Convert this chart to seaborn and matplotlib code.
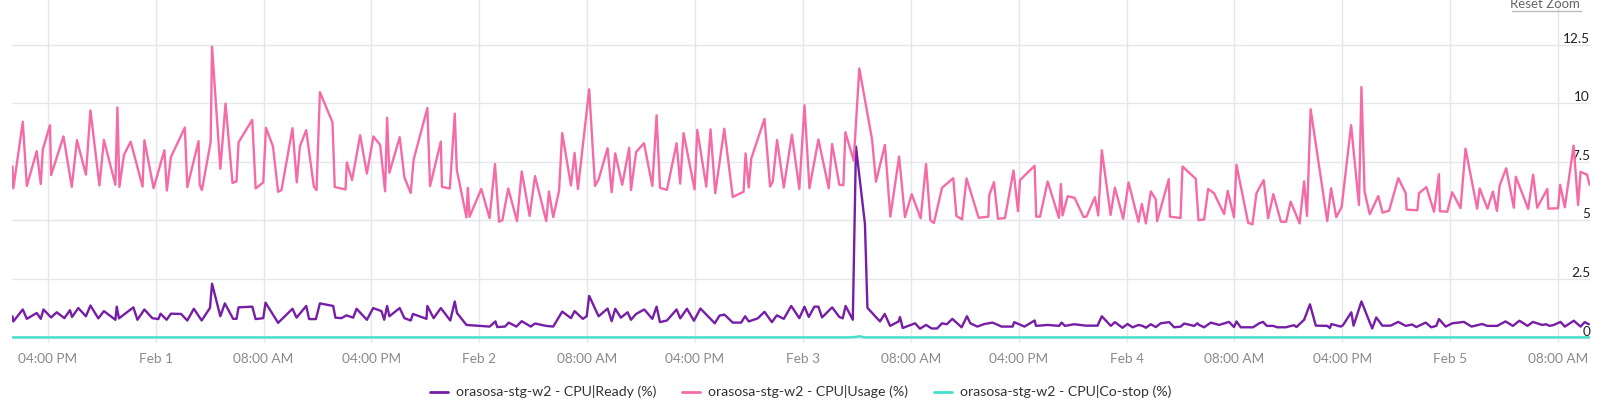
import numpy as np
import pandas as pd
import seaborn as sns
import matplotlib
matplotlib.use('Agg')
from matplotlib import pyplot as plt
import matplotlib.dates as mdates
from matplotlib.lines import Line2D

'''

Data (minutes after Jan 31 12:00, value in %)

'''
start = pd.Timestamp('2023-01-31 12:00')

usage_min = [83, 87, 129, 147, 191, 209, 218, 250, 255, 310, 347, 370, 410, 430, 470, 490, 541, 550, 559, 579,
             609, 662, 670, 711, 759, 770, 788, 850, 861, 911, 916, 926, 965, 971, 1008, 1031, 1062, 1080, 1089, 1150,
             1165, 1199, 1211, 1242, 1265, 1280, 1329, 1348, 1362, 1390, 1424, 1436, 1451, 1507, 1517, 1565, 1571, 1594, 1630, 1660,
             1689, 1719, 1741, 1750, 1760,
             1806, 1827, 1855, 1868, 1929, 1941, 1989, 1994, 2029, 2051, 2060, 2103, 2109, 2117, 2169, 2206, 2230, 2248, 2263, 2289,
             2328, 2349, 2384, 2408, 2458, 2470, 2489, 2515, 2529, 2568, 2584, 2599, 2649, 2675, 2691, 2731, 2749, 2765, 2796, 2827,
             2835, 2858, 2893, 2930, 2949, 2964, 2995, 3038, 3054, 3069, 3118, 3130, 3170, 3189, 3210, 3250, 3288, 3336, 3345, 3359,
             3370, 3429, 3454, 3466, 3485, 3515, 3551,
             3584, 3607, 3629, 3669, 3715, 3730, 3762, 3780, 3789, 3826, 3851, 3908, 3925, 3965, 3989, 4028, 4054, 4084, 4124, 4148,
             4167, 4183, 4219, 4269, 4283, 4308, 4328, 4382, 4425, 4429, 4450, 4468, 4499, 4537, 4557, 4566, 4631, 4638, 4655, 4689,
             4739, 4748, 4755, 4778, 4809, 4849, 4862, 4899, 4914, 4930, 4969, 4988, 5025, 5049, 5093, 5108, 5126, 5148, 5170, 5176,
             5228, 5233, 5280, 5289, 5348, 5360,
             5385, 5403, 5429, 5474, 5490, 5518, 5529, 5581, 5600, 5618, 5650, 5670, 5693, 5727, 5750, 5770, 5810, 5830, 5843, 5859,
             5933, 5950, 5973, 5997, 6039, 6074, 6085, 6099, 6122, 6160, 6179, 6208, 6249, 6282, 6286, 6334, 6341, 6374, 6408, 6430,
             6434, 6467, 6489, 6526, 6548, 6600, 6611, 6646, 6670, 6688, 6700, 6729, 6763, 6772, 6827, 6849, 6867, 6912, 6917, 6960,
             6969, 6990, 7029, 7049, 7060, 7089, 7100]
usage_val = [7.30, 6.37, 9.21, 6.47, 7.95, 6.55, 8.02, 9.06, 6.93, 8.58, 6.43, 8.42, 6.95, 9.69, 6.49, 8.43, 6.52, 9.82, 6.43, 7.79,
             8.36, 6.44, 8.42, 6.37, 7.99, 6.27, 7.70, 8.96, 6.42, 8.38, 6.52, 6.29, 8.35, 12.41, 7.20, 9.98, 6.60, 6.66, 8.33, 9.29,
             6.36, 6.62, 8.95, 8.16, 6.22, 6.29, 8.93, 6.62, 8.16, 8.85, 6.44, 6.29, 10.47, 9.18, 6.42, 6.32, 7.47, 6.72, 8.63, 7.00,
             8.58, 8.22, 6.24, 9.38, 7.03,
             8.55, 6.83, 6.17, 7.59, 9.79, 6.46, 8.36, 6.43, 6.36, 9.55, 7.16, 5.13, 6.39, 5.16, 6.34, 5.10, 7.40, 4.94, 5.01, 6.36,
             4.97, 7.09, 5.19, 6.89, 4.97, 6.23, 5.14, 6.26, 8.72, 6.49, 7.88, 6.34, 10.59, 6.47, 6.75, 8.08, 6.20, 7.86, 6.52, 8.10,
             6.29, 7.92, 8.29, 6.47, 9.48, 6.39, 6.30, 8.29, 6.57, 8.72, 6.32, 8.86, 6.44, 8.88, 6.16, 8.91, 6.00, 6.22, 7.86, 6.40,
             7.63, 9.33, 6.44, 6.66, 8.43, 6.40, 8.66,
             6.34, 9.91, 6.37, 8.45, 6.37, 8.26, 6.52, 6.50, 8.76, 7.55, 11.48, 8.43, 6.65, 8.22, 5.16, 7.72, 5.14, 6.12, 5.09, 7.40,
             5.00, 4.89, 6.39, 6.80, 5.19, 5.04, 6.79, 5.11, 5.16, 6.07, 6.63, 5.07, 5.10, 7.13, 5.39, 6.72, 7.33, 5.16, 5.16, 6.66,
             5.11, 6.55, 5.21, 6.03, 5.96, 5.14, 5.17, 5.99, 5.21, 7.99, 5.23, 6.40, 5.07, 6.62, 4.94, 5.70, 4.87, 6.24, 5.89, 4.97,
             6.76, 5.16, 5.10, 7.30, 6.77, 5.01,
             5.04, 6.34, 6.16, 5.27, 6.26, 5.13, 7.37, 4.90, 4.83, 6.16, 6.72, 5.09, 6.12, 4.94, 4.94, 5.80, 4.87, 6.66, 5.19, 9.74,
             4.97, 6.37, 5.14, 5.57, 9.06, 5.66, 10.69, 6.23, 5.26, 6.04, 5.33, 5.41, 6.80, 6.16, 5.46, 5.43, 6.16, 6.42, 5.37, 6.97,
             5.39, 5.37, 6.20, 5.52, 8.06, 5.50, 6.36, 5.50, 6.23, 5.40, 6.49, 7.22, 5.54, 6.86, 5.49, 6.95, 5.54, 6.34, 5.50, 5.52,
             6.52, 5.56, 8.19, 5.66, 7.07, 6.95, 6.52]

ready_min = [83, 87, 129, 147, 191, 209, 221, 255, 280, 314, 339, 348, 376, 410, 430, 465, 490, 541, 547, 557,
             621, 639, 670, 705, 732, 742, 769, 788, 833, 861, 890, 925, 962, 971, 1008, 1028, 1065, 1080, 1089, 1150,
             1165, 1199, 1209, 1265, 1329, 1347, 1390, 1403, 1433, 1451, 1510, 1520, 1547, 1569, 1599, 1614, 1660, 1688, 1725, 1737,
             1750, 1760,
             1806, 1827, 1855, 1865, 1925, 1929, 1957, 1989, 2031, 2051, 2061, 2103, 2166, 2206, 2232, 2240, 2274, 2291, 2325, 2349,
             2389, 2408, 2458, 2489, 2529, 2568, 2584, 2621, 2638, 2649, 2691, 2731, 2749, 2765, 2790, 2820, 2835, 2858, 2894, 2930,
             2949, 2964, 2995, 3038, 3054, 3084, 3115, 3144, 3208, 3229, 3251, 3288, 3325, 3343, 3359, 3399, 3429, 3462, 3484, 3515,
             3548,
             3584, 3607, 3626, 3651, 3669, 3685, 3730, 3762, 3777, 3790, 3822, 3836, 3876, 3887, 3943, 3964, 3988, 4026, 4032, 4044,
             4099, 4121, 4148, 4173, 4197, 4219, 4240, 4265, 4306, 4330, 4345, 4376, 4407, 4444, 4484, 4533, 4540, 4586, 4631, 4637,
             4689, 4740, 4751, 4766, 4807, 4859, 4911, 4930, 4970, 4988, 5022, 5044, 5067, 5093, 5111, 5126, 5148, 5170, 5192, 5230,
             5252, 5281, 5296, 5341, 5355,
             5363, 5385, 5415, 5452, 5496, 5518, 5529, 5548, 5603, 5630, 5647, 5664, 5692, 5711, 5748, 5785, 5796, 5830, 5856, 5882,
             5933, 5945, 5951, 5993, 6003, 6040, 6050, 6085, 6133, 6151, 6178, 6215, 6249, 6282, 6311, 6329, 6371, 6396, 6418, 6430,
             6460, 6489, 6541, 6575, 6622, 6645, 6689, 6726, 6759, 6788, 6824, 6848, 6889, 6907, 6922, 6941, 6971, 6990, 7030, 7060,
             7078, 7097]
ready_val = [0.91, 0.69, 1.20, 0.80, 1.05, 0.80, 1.20, 0.86, 1.08, 0.83, 1.17, 0.88, 1.26, 0.91, 1.37, 0.82, 1.13, 0.76, 1.32, 0.82,
             1.29, 0.76, 1.20, 0.83, 0.79, 1.02, 0.76, 1.02, 1.01, 0.73, 1.23, 0.73, 1.27, 2.30, 0.91, 1.46, 0.80, 0.80, 1.29, 1.32,
             0.79, 0.83, 1.49, 0.63, 1.23, 0.85, 1.35, 0.79, 0.79, 1.46, 1.35, 0.85, 0.83, 0.95, 0.85, 1.23, 0.76, 1.26, 1.13, 0.76,
             1.35, 0.91,
             1.26, 0.83, 0.73, 1.01, 0.80, 1.35, 0.83, 1.26, 0.73, 1.54, 1.05, 0.54, 0.50, 0.47, 0.69, 0.45, 0.47, 0.64, 0.47, 0.70,
             0.47, 0.60, 0.50, 0.47, 1.11, 0.83, 1.13, 0.80, 0.91, 1.78, 0.91, 1.24, 0.70, 1.23, 0.85, 1.08, 0.76, 1.01, 1.20, 0.80,
             1.32, 0.66, 0.73, 1.20, 0.82, 1.23, 0.72, 1.24, 0.61, 0.94, 0.98, 0.64, 0.64, 0.91, 0.69, 0.82, 1.10, 0.66, 0.95, 0.80,
             1.35,
             0.83, 1.32, 0.88, 1.32, 1.32, 0.86, 1.29, 0.88, 0.82, 1.35, 0.76, 8.15, 4.85, 1.27, 0.69, 1.01, 0.50, 0.69, 0.88, 0.41,
             0.61, 0.38, 0.54, 0.39, 0.39, 0.61, 0.57, 0.80, 0.44, 0.91, 0.61, 0.47, 0.58, 0.64, 0.47, 0.47, 0.66, 0.47, 0.73, 0.50,
             0.54, 0.50, 0.64, 0.50, 0.57, 0.51, 0.51, 0.91, 0.50, 0.66, 0.42, 0.58, 0.44, 0.54, 0.50, 0.42, 0.57, 0.45, 0.61, 0.66,
             0.44, 0.47, 0.60, 0.50, 0.61,
             0.54, 0.44, 0.64, 0.54, 0.67, 0.45, 0.69, 0.44, 0.44, 0.61, 0.67, 0.50, 0.50, 0.44, 0.44, 0.53, 0.45, 0.76, 1.42, 0.51,
             0.50, 0.41, 0.58, 0.47, 0.53, 1.08, 0.51, 1.54, 0.39, 0.86, 0.51, 0.51, 0.67, 0.50, 0.56, 0.45, 0.64, 0.44, 0.50, 0.79,
             0.47, 0.61, 0.67, 0.47, 0.58, 0.50, 0.50, 0.69, 0.50, 0.72, 0.50, 0.67, 0.54, 0.57, 0.50, 0.54, 0.67, 0.47, 0.72, 0.47,
             0.66, 0.57]

costop_min = [83, 3800, 3836, 3851, 3876, 7100]
costop_val = [0.01, 0.01, 0.03, 0.06, 0.01, 0.01]

names = ['orasosa-stg-w2 - CPU|Ready (%)',
         'orasosa-stg-w2 - CPU|Usage (%)',
         'orasosa-stg-w2 - CPU|Co-stop (%)']
colors = ['#761ea6', '#f56ba8', '#45e0cb']

yticks = [0, 2.5, 5, 7.5, 10, 12.5]
ytick_labels = ['0', '2.5', '5', '7.5', '10', '12.5']

'''

Build long frame

'''
frames = []
for n, m, v in zip(names, [ready_min, usage_min, costop_min], [ready_val, usage_val, costop_val]):
    frames.append(pd.DataFrame({'time': start + pd.to_timedelta(m, unit='min'), 'value': v, 'series': n}))
df = pd.concat(frames, axis=0).reset_index(drop=True)

'''

Plot

'''
sns.set_style('white')
plt.rcParams['font.family'] = ['Lato', 'DejaVu Sans']

fig = plt.figure(figsize=(16.01, 4.03), dpi=100)
ax = fig.add_axes([12 / 1601, 60 / 403, 1578 / 1601, 343 / 403])

sns.lineplot(data=df, x='time', y='value', hue='series', hue_order=names,
             palette=dict(zip(names, colors)), estimator=None, sort=False,
             linewidth=1.7, ax=ax, legend=False)

ax.set_xlim(start + pd.Timedelta(minutes=81), start + pd.Timedelta(minutes=7102))
ax.set_ylim(-0.23, 14.40)
ax.set_xlabel('')
ax.set_ylabel('')

ax.xaxis.set_major_locator(mdates.HourLocator(byhour=[0, 8, 16]))


def fmt(x, pos):
    d = mdates.num2date(x)
    if d.hour == 0:
        return d.strftime('%b ') + str(d.day)
    return d.strftime('%I:%M %p')


ax.xaxis.set_major_formatter(plt.FuncFormatter(fmt))
ax.set_yticks(yticks)
ax.set_yticklabels(ytick_labels)

ax.grid(True, color='#e4e6ea', linewidth=1.0)
ax.set_axisbelow(True)
for s in ax.spines.values():
    s.set_visible(False)

ax.tick_params(axis='x', length=0, pad=7, labelsize=9.8, labelcolor='#8a8a8a')
ax.tick_params(axis='y', length=0, left=False, right=False, labelleft=False, labelright=True,
               pad=0, labelsize=9.8, labelcolor='#222222')
for lbl in ax.get_yticklabels():
    lbl.set_ha('right')
    lbl.set_va('bottom')

handles = [Line2D([0], [0], color=c, linewidth=2) for c in colors]
fig.legend(handles, names, loc='center', bbox_to_anchor=(0.5, 1 - 392 / 403), ncol=3,
           frameon=False, fontsize=10.2, handlelength=1.3, handletextpad=0.55,
           columnspacing=1.8, labelcolor='#333333')

fig.text(1580 / 1601, 1 - 8 / 403, 'Reset Zoom', ha='right', va='baseline',
         fontsize=9.5, color='#666666')
fig.add_artist(Line2D([1512 / 1601, 1581 / 1601], [1 - 10.5 / 403, 1 - 10.5 / 403],
                      color='#bbbbbb', linewidth=1))

plt.savefig('out.png', dpi=100)
plt.close()
